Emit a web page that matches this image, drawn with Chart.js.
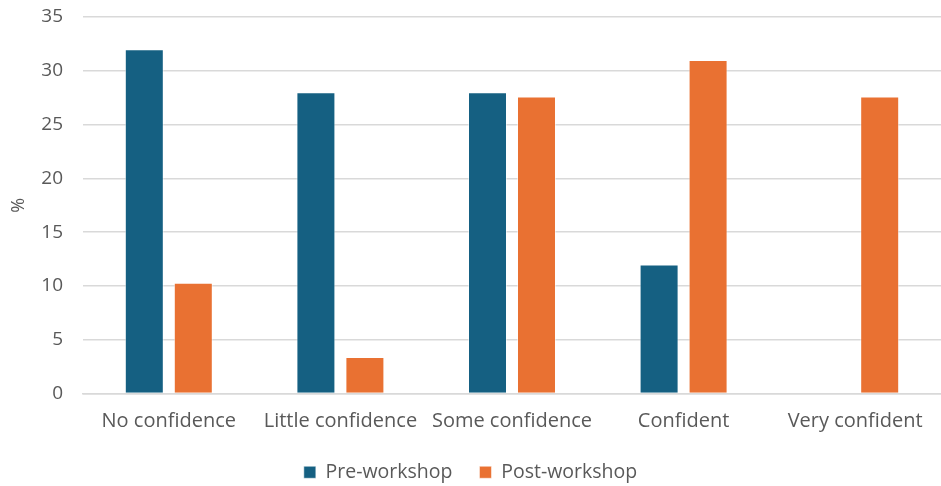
<!DOCTYPE html>
<html>
<head>
<meta charset="utf-8">
<script src="https://cdn.jsdelivr.net/npm/chart.js@4"></script>
<style>
  html, body { margin: 0; padding: 0; background: #ffffff; }
  #wrap { width: 941px; height: 486px; position: relative; }
</style>
</head>
<body>
<div id="wrap"><canvas id="chart"></canvas></div>
<script>
const categories = ['No confidence', 'Little confidence', 'Some confidence', 'Confident', 'Very confident'];
const preWorkshop = [32, 28, 28, 12, 0];
const postWorkshop = [10.3, 3.4, 27.6, 31.0, 27.6];
const yTicks = [0, 5, 10, 15, 20, 25, 30, 35];

const FONT = '"Open Sans", "Liberation Sans", sans-serif';
const TEXT = '#595959';

new Chart(document.getElementById('chart'), {
  type: 'bar',
  data: {
    labels: categories,
    datasets: [
      { label: 'Pre-workshop', data: preWorkshop, backgroundColor: '#156082',
        borderColor: 'rgba(255,255,255,0.5)', borderWidth: 1 },
      { label: 'Post-workshop', data: postWorkshop, backgroundColor: '#E97132',
        borderColor: 'rgba(255,255,255,0.5)', borderWidth: 1 }
    ]
  },
  options: {
    responsive: true,
    maintainAspectRatio: false,
    animation: false,
    devicePixelRatio: 1,
    layout: { padding: { top: 17, right: 0, bottom: -6, left: 0 } },
    datasets: { bar: { categoryPercentage: 0.571, barPercentage: 0.796 } },
    plugins: {
      legend: {
        position: 'bottom',
        labels: { font: { family: FONT, size: 19.5 }, color: TEXT, boxWidth: 12, boxHeight: 12, padding: 27 }
      },
      tooltip: { enabled: false }
    },
    scales: {
      x: {
        grid: { display: false },
        border: { color: '#d9d9d9', width: 1.5 },
        afterFit: (s) => { s.height = s.height - 6; },
        ticks: { font: { family: FONT, size: 20 }, color: TEXT, maxRotation: 0, padding: 8 }
      },
      y: {
        min: 0, max: 35,
        afterBuildTicks: (s) => { s.ticks = yTicks.map(v => ({ value: v })); },
        afterFit: (s) => { s.width = 83; s.paddingTop = 0; s.paddingBottom = 0; },
        grid: { color: '#d9d9d9', lineWidth: 1.5, drawTicks: false },
        border: { display: false },
        ticks: { font: { family: FONT, size: 19 }, color: TEXT, padding: 20 },
        title: { display: true, text: '%', font: { family: FONT, size: 18 }, color: TEXT, padding: { top: 8, bottom: 0 } }
      }
    }
  }
});
</script>
</body>
</html>
